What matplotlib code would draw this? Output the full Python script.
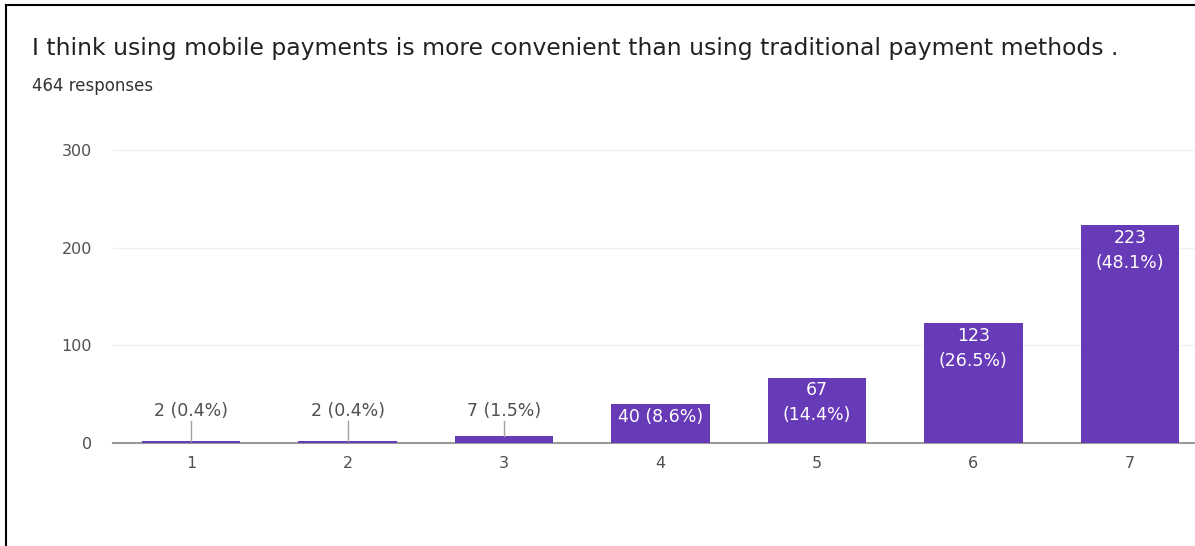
"""Survey response bar chart: convenience of mobile payments"""

import matplotlib
matplotlib.use("Agg")
import matplotlib.pyplot as plt
from matplotlib.lines import Line2D

plt.rcParams['font.family'] = ['DejaVu Sans']

# Survey data
question = "I think using mobile payments is more convenient than using traditional payment methods ."
total_responses = 464
scale = [1, 2, 3, 4, 5, 6, 7]
counts = [2, 2, 7, 40, 67, 123, 223]
percents = [0.4, 0.4, 1.5, 8.6, 14.4, 26.5, 48.1]
y_ticks = [0, 100, 200, 300]

W, H = 1195, 546
fig = plt.figure(figsize=(W / 100, H / 100), dpi=100)

# Axes placed in pixel terms; plot runs off the right edge
left, right, bottom, top = 113, 1208, 546 - 443, 546 - 150
ax = fig.add_axes([left / W, bottom / H, (right - left) / W, (top - bottom) / H])

purple = '#673ab7'
ax.bar(scale, counts, width=0.63, color=purple, zorder=3)

ax.set_xlim(0.5, 7.5)
ax.set_ylim(0, 300)
ax.set_yticks(y_ticks)
ax.set_xticks(scale)
ax.grid(axis='y', color='#f0f0f0', linewidth=1, zorder=0)
for s in ['top', 'right', 'left']:
    ax.spines[s].set_visible(False)
ax.spines['bottom'].set_color('#9a9a9a')
ax.spines['bottom'].set_linewidth(1.5)
ax.spines['bottom'].set_zorder(2)
ax.tick_params(length=0, labelsize=11.5, colors='#505050')
ax.tick_params(axis='y', pad=15)
ax.tick_params(axis='x', pad=9)

# Value labels: inside tall bars, above short ones with a leader line
leader_top = 23
lbl_size = 12.5
for x, c, p in zip(scale, counts, percents):
    if c < 20:
        ax.plot([x, x], [c, leader_top], color='#a0a0a0', linewidth=1, zorder=4)
        ax.text(x, leader_top + 1, f"{c} ({p}%)", ha='center', va='bottom',
                fontsize=lbl_size, color='#505050')
    elif c < 60:
        ax.text(x, c - 4, f"{c} ({p}%)", ha='center', va='top',
                fontsize=lbl_size, color='white', zorder=5)
    else:
        ax.text(x, c - 4, f"{c}\n({p}%)", ha='center', va='top',
                fontsize=lbl_size, color='white', linespacing=1.5, zorder=5)

fig.text(32 / W, 1 - 49 / H, question, fontsize=16.9, color='#222222', va='center')
fig.text(32 / W, 1 - 86 / H, f"{total_responses} responses", fontsize=12,
         color='#333333', va='center')

# Frame lines on the left and top edges
fig.add_artist(Line2D([6 / W, 6 / W], [0, 1 - 5 / H], transform=fig.transFigure,
                      color='black', linewidth=1.5))
fig.add_artist(Line2D([6 / W, 1], [1 - 5 / H, 1 - 5 / H], transform=fig.transFigure,
                      color='black', linewidth=1.5))

fig.savefig("out.png", dpi=100)
